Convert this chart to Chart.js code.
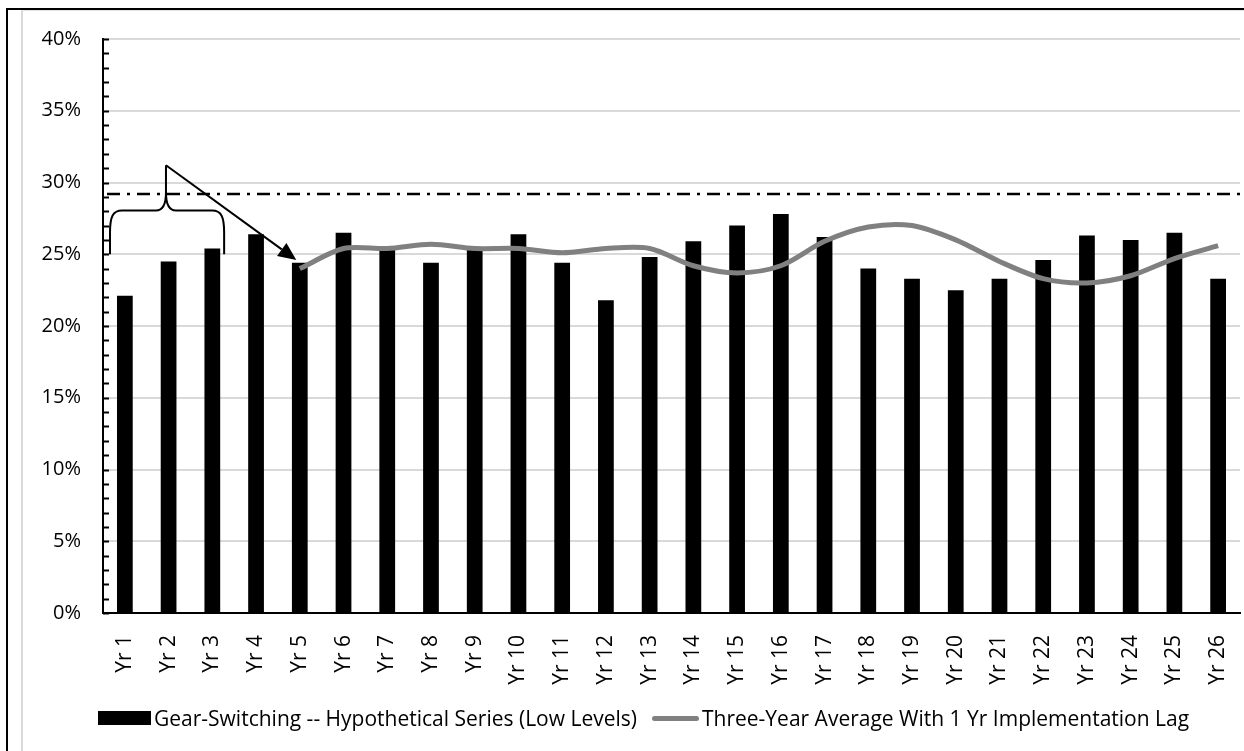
<!DOCTYPE html>
<html>
<head>
<meta charset="utf-8">
<title>Gear-Switching</title>
<script src="https://cdn.jsdelivr.net/npm/chart.js@4.4.1/dist/chart.umd.min.js"></script>
<style>
  html, body { margin: 0; padding: 0; background: #fff; }
  #wrap { position: relative; width: 1244px; height: 751px; overflow: hidden; font-family: "Open Sans", sans-serif; }
  #frame { position: absolute; left: 6px; top: 8px; width: 1300px; height: 800px;
           border-top: 2px solid #000; border-left: 2px solid #000; pointer-events: none; }
  #inner { position: absolute; left: 21px; top: 10px; width: 1300px; height: 800px;
           border-top: 1px solid #e4e4e4; border-left: 2px solid #d9d9d9; pointer-events: none; }
  #legend { position: absolute; left: 98px; top: 704px; height: 28px; display: flex; align-items: center;
            font-size: 21px; color: #000; white-space: nowrap; }
  #legend .item { display: flex; align-items: center; margin-right: 15px; }
  #legend .swatch { margin-right: 3px; }
</style>
</head>
<body>
<div id="wrap">
  <canvas id="chart" width="1244" height="751"></canvas>
  <div id="legend"></div>
  <div id="inner"></div>
  <div id="frame"></div>
</div>
<script>
const years = ['Yr 1', 'Yr 2', 'Yr 3', 'Yr 4', 'Yr 5', 'Yr 6', 'Yr 7', 'Yr 8', 'Yr 9', 'Yr 10',
  'Yr 11', 'Yr 12', 'Yr 13', 'Yr 14', 'Yr 15', 'Yr 16', 'Yr 17', 'Yr 18', 'Yr 19', 'Yr 20',
  'Yr 21', 'Yr 22', 'Yr 23', 'Yr 24', 'Yr 25', 'Yr 26'];

// yearly gear-switching share, percent
const gearSwitching = [22.1, 24.5, 25.4, 26.4, 24.4, 26.5, 25.4, 24.4, 25.5, 26.4,
  24.4, 21.8, 24.8, 25.9, 27.0, 27.8, 26.2, 24.0, 23.3, 22.5,
  23.3, 24.6, 26.3, 26.0, 26.5, 23.3];

// trailing three-year average, shifted one year (starts at Yr 5)
const threeYearAvg = [null, null, null, null, 24.0, 25.4, 25.4, 25.7, 25.4, 25.4,
  25.1, 25.4, 25.4, 24.2, 23.7, 24.2, 25.9, 26.9, 27.0, 26.0,
  24.5, 23.3, 23.0, 23.5, 24.7, 25.6];

const yMin = 0;
const yMax = 40;
const yMinorStep = 1;
const yMajorStep = 5;

// dash-dot reference level
const thresholdLevel = 29.2;

// brace over Yr 1-3 and arrow to the first averaged point (category index / percent)
const braceSpan = [-0.34, 2.27];
const braceMid = 0.94;
const braceLevels = [25.0, 28.05, 31.2];
const arrowTip = [3.92, 24.6];

Chart.defaults.font.family = '"Open Sans", sans-serif';
Chart.defaults.color = '#000';

const extras = {
  id: 'extras',
  afterDatasetsDraw(chart) {
    const { ctx, chartArea, scales: { x, y } } = chart;
    ctx.save();

    // minor tick marks on the inside of the value axis
    ctx.strokeStyle = '#000';
    ctx.lineWidth = 2;
    y.ticks.forEach(t => {
      const py = Math.round(y.getPixelForValue(t.value)) + 0.5;
      ctx.beginPath();
      ctx.moveTo(chartArea.left, py);
      ctx.lineTo(chartArea.left + 6, py);
      ctx.stroke();
    });

    // threshold line
    const ty = y.getPixelForValue(thresholdLevel);
    ctx.setLineDash([13, 7, 3, 7]);
    ctx.lineWidth = 2.5;
    ctx.beginPath();
    ctx.moveTo(chartArea.left + 4, ty);
    ctx.lineTo(chartArea.right, ty);
    ctx.stroke();
    ctx.setLineDash([]);

    // curly brace
    const xl = x.getPixelForValue(braceSpan[0]);
    const xr = x.getPixelForValue(braceSpan[1]);
    const xm = x.getPixelForValue(braceMid);
    const yb = y.getPixelForValue(braceLevels[0]);
    const yh = y.getPixelForValue(braceLevels[1]);
    const yp = y.getPixelForValue(braceLevels[2]);
    ctx.lineWidth = 2;
    ctx.beginPath();
    ctx.moveTo(xl, yb);
    ctx.lineTo(xl, yh + 22);
    ctx.bezierCurveTo(xl, yh + 6, xl + 3, yh, xl + 12, yh);
    ctx.lineTo(xm - 10, yh);
    ctx.bezierCurveTo(xm - 3, yh, xm, yh - 6, xm, yh - 18);
    ctx.lineTo(xm, yp);
    ctx.moveTo(xm, yh - 18);
    ctx.bezierCurveTo(xm, yh - 6, xm + 3, yh, xm + 10, yh);
    ctx.lineTo(xr - 12, yh);
    ctx.bezierCurveTo(xr - 3, yh, xr, yh + 6, xr, yh + 22);
    ctx.lineTo(xr, yb);
    ctx.stroke();

    // arrow
    const ax = x.getPixelForValue(arrowTip[0]);
    const ay = y.getPixelForValue(arrowTip[1]);
    const ang = Math.atan2(ay - yp, ax - xm);
    const headLen = 18, headHalf = 8;
    const bx = ax - headLen * Math.cos(ang);
    const by = ay - headLen * Math.sin(ang);
    ctx.beginPath();
    ctx.moveTo(xm, yp);
    ctx.lineTo(bx, by);
    ctx.stroke();
    ctx.fillStyle = '#000';
    ctx.beginPath();
    ctx.moveTo(ax, ay);
    ctx.lineTo(bx + headHalf * Math.sin(ang), by - headHalf * Math.cos(ang));
    ctx.lineTo(bx - headHalf * Math.sin(ang), by + headHalf * Math.cos(ang));
    ctx.closePath();
    ctx.fill();

    ctx.restore();
  }
};

const chart = new Chart(document.getElementById('chart'), {
  type: 'bar',
  data: {
    labels: years,
    datasets: [
      {
        type: 'bar',
        label: 'Gear-Switching -- Hypothetical Series (Low Levels)',
        data: gearSwitching,
        backgroundColor: '#000',
        borderWidth: 0,
        barPercentage: 0.36,
        categoryPercentage: 1,
        order: 1
      },
      {
        type: 'line',
        label: 'Three-Year Average With 1 Yr Implementation Lag',
        data: threeYearAvg,
        borderColor: '#808080',
        borderWidth: 5,
        tension: 0.3,
        pointRadius: 0,
        spanGaps: false,
        order: 0
      }
    ]
  },
  options: {
    responsive: false,
    animation: false,
    layout: { padding: { left: 23, right: 4, top: 39, bottom: 58 } },
    scales: {
      x: {
        grid: { display: false },
        border: { color: '#000', width: 2 },
        ticks: { maxRotation: 90, minRotation: 90, autoSkip: false, padding: 14, font: { size: 21 } },
        afterFit(scale) {
          scale.height = 80;
          // rotated labels sit inside their columns, no side overhang
          scale.paddingLeft = 0;
          scale.paddingRight = 0;
        }
      },
      y: {
        min: yMin,
        max: yMax,
        border: { color: '#000', width: 2 },
        grid: {
          drawTicks: false,
          lineWidth: 2,
          color: c => (c.tick && c.tick.value % yMajorStep === 0) ? '#d9d9d9' : 'rgba(0,0,0,0)'
        },
        ticks: {
          stepSize: yMinorStep,
          autoSkip: false,
          padding: 22,
          font: { size: 20 },
          callback: v => v % yMajorStep === 0 ? v + '%' : ''
        },
        afterFit(scale) { scale.width = 80; }
      }
    },
    plugins: {
      tooltip: { enabled: false },
      legend: { display: false }
    }
  },
  plugins: [extras]
});

// legend built from the dataset styles
const legendEl = document.getElementById('legend');
chart.data.datasets.forEach(ds => {
  const item = document.createElement('div');
  item.className = 'item';
  const sw = document.createElement('span');
  sw.className = 'swatch';
  if (ds.type === 'line') {
    sw.style.cssText = `display:inline-block;width:47px;height:${ds.borderWidth}px;border-radius:3px;background:${ds.borderColor};`;
  } else {
    sw.style.cssText = `display:inline-block;width:53px;height:14px;background:${ds.backgroundColor};`;
  }
  const txt = document.createElement('span');
  txt.textContent = ds.label;
  item.appendChild(sw);
  item.appendChild(txt);
  legendEl.appendChild(item);
});
</script>
</body>
</html>
